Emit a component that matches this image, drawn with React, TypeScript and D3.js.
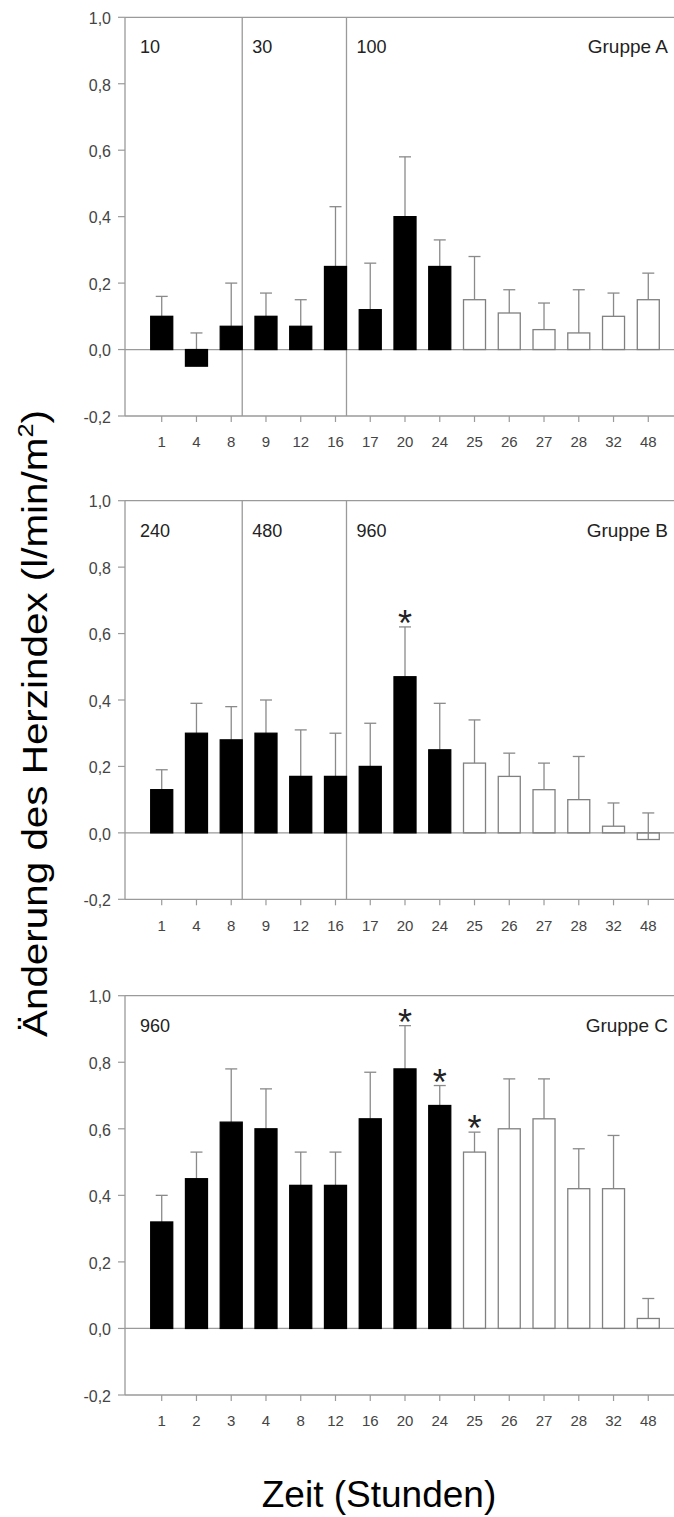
import React from "react";
import * as d3 from "d3";

const catsAB = ["1", "4", "8", "9", "12", "16", "17", "20", "24", "25", "26", "27", "28", "32", "48"];
const catsC = ["1", "2", "3", "4", "8", "12", "16", "20", "24", "25", "26", "27", "28", "32", "48"];

const valsA = [0.10, -0.05, 0.07, 0.10, 0.07, 0.25, 0.12, 0.40, 0.25, 0.15, 0.11, 0.06, 0.05, 0.10, 0.15];
const sdA = [0.06, 0.10, 0.13, 0.07, 0.08, 0.18, 0.14, 0.18, 0.08, 0.13, 0.07, 0.08, 0.13, 0.07, 0.08];

const valsB = [0.13, 0.30, 0.28, 0.30, 0.17, 0.17, 0.20, 0.47, 0.25, 0.21, 0.17, 0.13, 0.10, 0.02, -0.02];
const sdB = [0.06, 0.09, 0.10, 0.10, 0.14, 0.13, 0.13, 0.15, 0.14, 0.13, 0.07, 0.08, 0.13, 0.07, 0.08];

const valsC = [0.32, 0.45, 0.62, 0.60, 0.43, 0.43, 0.63, 0.78, 0.67, 0.53, 0.60, 0.63, 0.42, 0.42, 0.03];
const sdC = [0.08, 0.08, 0.16, 0.12, 0.10, 0.10, 0.14, 0.13, 0.06, 0.06, 0.15, 0.12, 0.12, 0.16, 0.06];

const filledCount = 9; // bars up to 24 h are filled
const yTicks = [-0.2, 0, 0.2, 0.4, 0.6, 0.8, 1.0];

const dosesA = ["10", "30", "100"];
const dosesB = ["240", "480", "960"];
const dosesC = ["960"];
const separatorsAB = [2, 5]; // separator after these bar indices
const starsA: number[] = [];
const starsB = [7];
const starsC = [7, 8, 9];

const W = 674;
const H = 1517;
const LEFT = 125;
const RIGHT = 685;
const FONT = "'Liberation Sans', Arial, Helvetica, sans-serif";
const GRID = "#9a9a9a";
const ERR = "#8a8a8a";

type PanelProps = {
  top: number;
  bottom: number;
  cats: string[];
  vals: number[];
  sds: number[];
  doses: string[];
  seps: number[];
  stars: number[];
  group: string;
};

function Panel({ top, bottom, cats, vals, sds, doses, seps, stars, group }: PanelProps) {
  const x = d3.scaleBand<string>().domain(cats).range([LEFT, RIGHT]).paddingInner(0.367).paddingOuter(0.74);
  const y = d3.scaleLinear().domain([-0.2, 1.0]).range([bottom, top]);
  const bw = x.bandwidth();
  const cap = 12;
  const fmt = (v: number) => d3.format(".1f")(v).replace(".", ",").replace("−", "-");

  return (
    <g>
      <line x1={LEFT} x2={W} y1={y(1.0)} y2={y(1.0)} stroke={GRID} strokeWidth={1.3} />
      <line x1={LEFT} x2={W} y1={y(0)} y2={y(0)} stroke={GRID} strokeWidth={1.3} />
      <line x1={LEFT} x2={W} y1={y(-0.2)} y2={y(-0.2)} stroke={GRID} strokeWidth={1.3} />
      <line x1={LEFT} x2={LEFT} y1={y(1.0)} y2={y(-0.2)} stroke={GRID} strokeWidth={1.3} />
      {yTicks.map((t) => (
        <g key={t}>
          <line x1={LEFT - 7} x2={LEFT} y1={y(t)} y2={y(t)} stroke={GRID} strokeWidth={1.2} />
          <text x={LEFT - 14} y={y(t) + 1} dy="0.36em" textAnchor="end" fontSize={16} fill="#444" fontFamily={FONT}>
            {fmt(t)}
          </text>
        </g>
      ))}
      {cats.map((c) => {
        const cx = (x(c) as number) + bw / 2;
        return (
          <g key={c}>
            <line x1={cx} x2={cx} y1={y(-0.2)} y2={y(-0.2) + 6} stroke={GRID} strokeWidth={1.2} />
            <text x={cx} y={y(-0.2) + 26} dy="0.36em" textAnchor="middle" fontSize={15} fill="#444" fontFamily={FONT}>
              {c}
            </text>
          </g>
        );
      })}
      {seps.map((i) => {
        const sx = (x(cats[i]) as number) + bw;
        return <line key={i} x1={sx} x2={sx} y1={y(1.0)} y2={y(-0.2)} stroke={GRID} strokeWidth={1.3} />;
      })}
      {cats.map((c, i) => {
        const cx = (x(c) as number) + bw / 2;
        const v = vals[i];
        const hi = v + sds[i];
        return (
          <g key={"e" + c}>
            <line x1={cx} x2={cx} y1={y(v)} y2={y(hi)} stroke={ERR} strokeWidth={1.3} />
            <line x1={cx - cap / 2} x2={cx + cap / 2} y1={y(hi)} y2={y(hi)} stroke={ERR} strokeWidth={1.3} />
          </g>
        );
      })}
      {cats.map((c, i) => {
        const v = vals[i];
        const filled = i < filledCount;
        const y0 = y(Math.max(v, 0));
        const y1 = y(Math.min(v, 0));
        return (
          <rect
            key={"b" + c}
            x={x(c) as number}
            y={y0}
            width={bw}
            height={y1 - y0}
            fill={filled ? "#000" : "none"}
            stroke={filled ? "#000" : "#808080"}
            strokeWidth={1.3}
          />
        );
      })}
      {stars.map((i) => {
        const cx = (x(cats[i]) as number) + bw / 2;
        const cy = y(vals[i] + sds[i]) - 12;
        return (
          <text key={"s" + i} x={cx} y={cy + 21} textAnchor="middle" fontSize={36} fill="#222" fontFamily={FONT}>
            *
          </text>
        );
      })}
      {doses.map((d, k) => {
        const lx = k === 0 ? LEFT + 15 : (x(cats[seps[k - 1]]) as number) + bw + 10;
        return (
          <text key={"d" + d + k} x={lx} y={top + 36} fontSize={18} fill="#222" fontFamily={FONT}>
            {d}
          </text>
        );
      })}
      <text x={668} y={top + 36} textAnchor="end" fontSize={19} fill="#222" fontFamily={FONT}>
        {group}
      </text>
    </g>
  );
}

export default function App() {
  return (
    <svg
      width={W}
      height={H}
      viewBox={`0 0 ${W} ${H}`}
      style={{ position: "absolute", left: 0, top: 0, background: "#fff" }}
    >
      <rect x={0} y={0} width={W} height={H} fill="#fff" />
      <Panel top={17.3} bottom={416} cats={catsAB} vals={valsA} sds={sdA} doses={dosesA} seps={separatorsAB} stars={starsA} group="Gruppe A" />
      <Panel top={500.7} bottom={899.3} cats={catsAB} vals={valsB} sds={sdB} doses={dosesB} seps={separatorsAB} stars={starsB} group="Gruppe B" />
      <Panel top={995.7} bottom={1395} cats={catsC} vals={valsC} sds={sdC} doses={dosesC} seps={[]} stars={starsC} group="Gruppe C" />
      <text
        transform={`translate(47, 723.5) rotate(-90)`}
        textAnchor="middle"
        fontSize={35}
        fill="#000"
        fontFamily={FONT}
        textLength={627}
        lengthAdjust="spacingAndGlyphs"
      >
        Änderung des Herzindex (l/min/m
        <tspan fontSize={22} dy={-14}>2</tspan>
        <tspan dy={14}>)</tspan>
      </text>
      <text x={379} y={1507} textAnchor="middle" fontSize={37} fill="#000" fontFamily={FONT}>
        Zeit (Stunden)
      </text>
    </svg>
  );
}
